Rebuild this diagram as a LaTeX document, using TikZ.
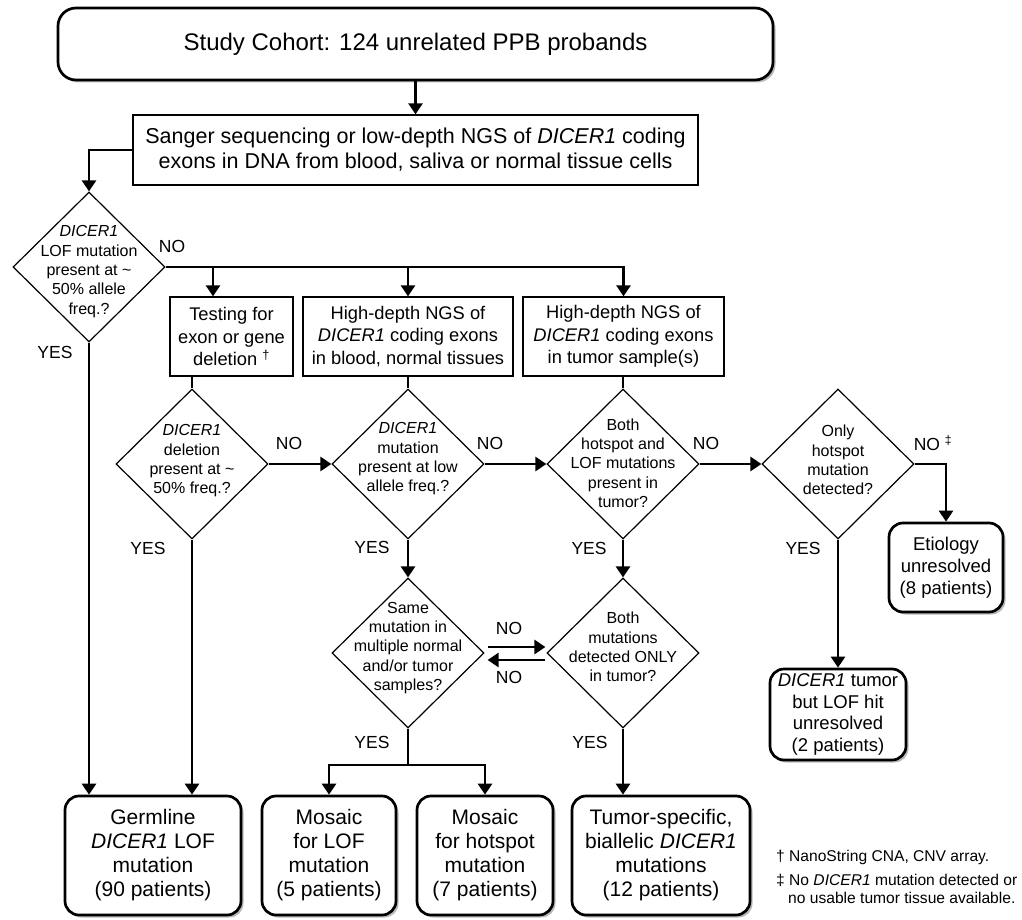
\documentclass[tikz,border=0pt]{standalone}
\usepackage{fontspec}
\setmainfont{Liberation Sans}
\usetikzlibrary{shapes.geometric,arrows.meta,shadows,calc}
\newcommand{\fsz}[2]{\fontsize{#1}{#2}\selectfont}
\begin{document}
\begin{tikzpicture}[x=1pt,y=-1pt,
  rbox/.style={draw, line width=2.7pt, rounded corners=14pt, fill=white, align=center, inner sep=0pt,
    drop shadow={shadow xshift=2.5pt, shadow yshift=-2.5pt, opacity=0.45, fill=black!60}},
  sbox/.style={draw, line width=1.3pt, fill=white, align=center, inner sep=0pt},
  dia/.style={diamond, draw, line width=1.2pt, minimum width=152pt, minimum height=150pt, inner sep=0pt},
  dtext/.style={align=center, inner sep=0pt, font=\fsz{16}{19.3}},
  arr/.style={line width=2.6pt, -{Triangle[width=14pt,length=11pt]}},
  conn/.style={line width=2.6pt},
  thinconn/.style={line width=1.8pt},
  lbl/.style={inner sep=0pt, font=\fsz{17.5}{20}},
  foot/.style={inner sep=0pt, anchor=west, font=\fsz{15.6}{18}}]
\useasboundingbox (0,0) rectangle (1022,920);

% top boxes
\node[rbox, minimum width=715pt, minimum height=72pt, font=\fsz{24}{28}, rounded corners=18pt] (top) at (415.5,44) {Study Cohort: 124 unrelated PPB probands};
\node[sbox, minimum width=565pt, minimum height=70pt, font=\fsz{21.5}{25}] (sang) at (415.5,150) {Sanger sequencing or low-depth NGS of \textit{DICER1} coding\\exons in DNA from blood, saliva or normal tissue cells};

% second row boxes
\node[sbox, minimum width=123pt, minimum height=79pt, font=\fsz{18.3}{22.5}] (b1) at (231.5,336.5) {Testing for\\exon or gene\\deletion \textsuperscript{\textdagger}};
\node[sbox, minimum width=210pt, minimum height=79pt, font=\fsz{18.3}{22.5}] (b2) at (408,336.5) {High-depth NGS of\\\textit{DICER1} coding exons\\in blood, normal tissues};
\node[sbox, minimum width=201pt, minimum height=79pt, font=\fsz{18.3}{22.5}] (b3) at (623.5,336.5) {High-depth NGS of\\\textit{DICER1} coding exons\\in tumor sample(s)};

% diamonds
\node[dia] (d1) at (89,267) {};
\node[dtext] (d1t) at (89,271.5) {\textit{DICER1}\\LOF mutation\\present at \textasciitilde\\50\% allele\\freq.?};
\node[dia] (d2) at (192,464) {};
\node[dtext] (d2t) at (192,461) {\textit{DICER1}\\deletion\\present at \textasciitilde\\50\% freq.?};
\node[dia] (d3) at (408,464) {};
\node[dtext] (d3t) at (408,459) {\textit{DICER1}\\mutation\\present at low\\allele freq.?};
\node[dia] (d5) at (623,464) {};
\node[dtext] (d5t) at (623,463) {Both\\hotspot and\\LOF mutations\\present in\\tumor?};
\node[dia] (d7) at (838,464) {};
\node[dtext] (d7t) at (838,460) {Only\\hotspot\\mutation\\detected?};
\node[dia] (d4) at (408,653) {};
\node[dtext] (d4t) at (408,648) {Same\\mutation in\\multiple normal\\and/or tumor\\samples?};
\node[dia] (d6) at (623,653) {};
\node[dtext] (d6t) at (623,647) {Both\\mutations\\detected ONLY\\in tumor?};

% outcome boxes
\node[rbox, minimum width=114pt, minimum height=89pt, font=\fsz{18.5}{22}] (etio) at (946,567.5) {Etiology\\unresolved\\(8 patients)};
\node[rbox, minimum width=136pt, minimum height=91pt, font=\fsz{18.5}{21.5}] (dtum) at (838,714.5) {\textit{DICER1} tumor\\but LOF hit\\unresolved\\(2 patients)};
\node[rbox, minimum width=176pt, minimum height=119pt, font=\fsz{21}{24}] (germ) at (153,855.5) {Germline\\\textit{DICER1} LOF\\mutation\\(90 patients)};
\node[rbox, minimum width=134pt, minimum height=119pt, font=\fsz{21}{24}] (m1) at (329,855.5) {Mosaic\\for LOF\\mutation\\(5 patients)};
\node[rbox, minimum width=136pt, minimum height=119pt, font=\fsz{21}{24}] (m2) at (485,855.5) {Mosaic\\for hotspot\\mutation\\(7 patients)};
\node[rbox, minimum width=178pt, minimum height=119pt, font=\fsz{21}{24}] (tb) at (661,855.5) {Tumor-specific,\\biallelic \textit{DICER1}\\mutations\\(12 patients)};

% footnotes
\node[foot] (f1) at (776,857) {\textdagger{} NanoString CNA, CNV array.};
\node[foot] (f2) at (776,880) {\textdaggerdbl{} No \textit{DICER1} mutation detected or};
\node[foot] (f3) at (788,898) {no usable tumor tissue available.};

% labels
\node[lbl] (n1) at (172,246) {NO};
\node[lbl] (y1) at (55,352) {YES};
\node[lbl] (n2) at (289,443) {NO};
\node[lbl] (y2) at (148,548) {YES};
\node[lbl] (n3) at (490,443) {NO};
\node[lbl] (y3) at (372,547) {YES};
\node[lbl] (n5) at (706,443) {NO};
\node[lbl] (y5) at (589,548) {YES};
\node[lbl] (n7) at (933,443) {NO \textsuperscript{\textdaggerdbl}};
\node[lbl] (y7) at (803,548) {YES};
\node[lbl] (n4a) at (509,628) {NO};
\node[lbl] (n4b) at (509,677) {NO};
\node[lbl] (y4) at (372,742) {YES};
\node[lbl] (y6) at (590,742) {YES};

% connectors
\coordinate (tin) at ([xshift=-18.5pt]b1.north);
\coordinate (split) at (408,765);
\draw[arr] (top) -- (sang);
\draw[arr] (sang.west) -| (d1.north);
\draw[arr] (d1.east) -| (b3.north);
\draw[arr] (d1.east -| b2.north) -- (b2.north);
\draw[arr] (d1.east -| tin) -- (tin);
\draw[thinconn] (b1.south -| d2.north) -- (d2.north);
\draw[thinconn] (b2.south) -- (d3.north);
\draw[thinconn] (b3.south -| d5.north) -- (d5.north);
\draw[arr] (d1.south) -- (d1.south |- germ.north);
\draw[arr] (d2.south) -- (d2.south |- germ.north);
\draw[arr] (d2.east) -- (d3.west);
\draw[arr] (d3.east) -- (d5.west);
\draw[arr] (d5.east) -- (d7.west);
\draw[arr] (d7.east) -| (etio.north);
\draw[arr] (d7.south) -- (dtum.north);
\draw[arr] (d3.south) -- (d4.north);
\draw[arr] (d5.south) -- (d6.north);
\draw[arr] ([xshift=3pt,yshift=6pt]d4.east) -- ([xshift=-1pt,yshift=6pt]d6.west);
\draw[arr] ([xshift=-1pt,yshift=-7pt]d6.west) -- ([xshift=3pt,yshift=-7pt]d4.east);
\draw[conn] (d4.south) -- (split);
\draw[arr] (split) -| (m1.north);
\draw[arr] (split) -| (m2.north);
\draw[arr] (d6.south) -- (d6.south |- tb.north);
\end{tikzpicture}
\end{document}
